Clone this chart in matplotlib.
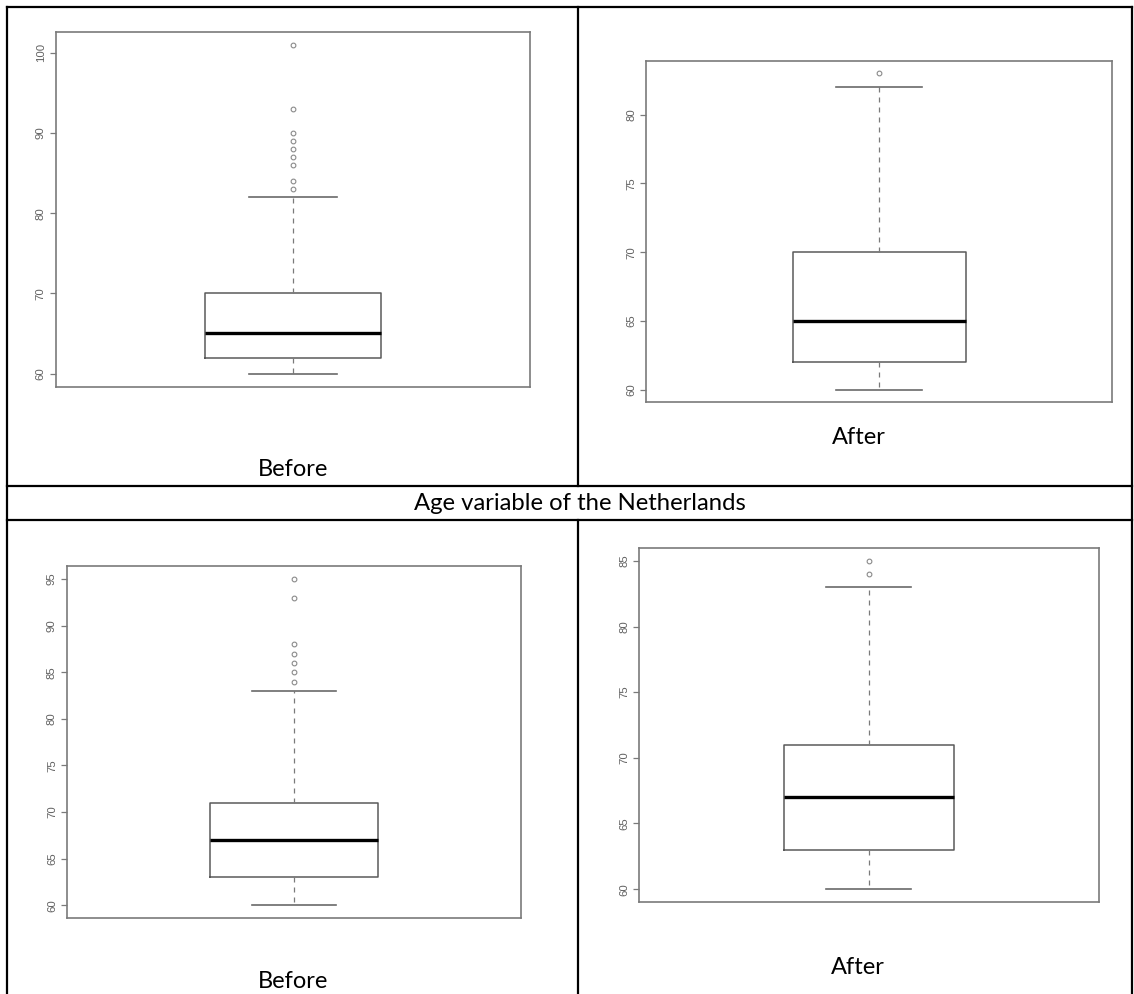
import matplotlib
matplotlib.use("Agg")
import matplotlib.pyplot as plt
from matplotlib.lines import Line2D

# Age summaries (box stats + outliers) for each panel
labels = ["Before", "After", "Before", "After"]
q1 = [62, 62, 63, 63]
medians = [65, 65, 67, 67]
q3 = [70, 70, 71, 71]
whis_lo = [60, 60, 60, 60]
whis_hi = [82, 82, 83, 83]
outliers = [
    [83, 84, 86, 87, 88, 89, 90, 93, 101],
    [83],
    [84, 85, 86, 87, 88, 93, 95],
    [84, 85],
]
yticks = [
    [60, 70, 80, 90, 100],
    [60, 65, 70, 75, 80],
    [60, 65, 70, 75, 80, 85, 90, 95],
    [60, 65, 70, 75, 80, 85],
]
title = "Age variable of the Netherlands"

W, H = 1134, 994
fig = plt.figure(figsize=(W / 100, H / 100), dpi=100)
fig.patch.set_facecolor("white")


def fx(x):
    return x / W


def fy(y):
    return 1 - y / H


# axes boxes in pixels: left, top, right, bottom
panels = [
    (55.5, 31.7, 530.0, 386.7),
    (646.3, 60.7, 1112.3, 402.3),
    (66.7, 566.0, 521.0, 918.3),
    (639.0, 547.7, 1098.7, 902.3),
]
# caption centres in pixels
captions = [(293, 470), (859, 438), (293, 982), (858, 967)]

frame_col = "#7a7a7a"
for i, (l, t, r, b) in enumerate(panels):
    ax = fig.add_axes([fx(l), fy(b), fx(r - l), (b - t) / H])
    stats = [dict(med=medians[i], q1=q1[i], q3=q3[i],
                  whislo=whis_lo[i], whishi=whis_hi[i],
                  fliers=outliers[i], label="")]
    ax.bxp(stats, positions=[1], widths=0.4, capwidths=0.2,
           showfliers=True,
           boxprops=dict(color="#5a5a5a", linewidth=1.1),
           medianprops=dict(color="black", linewidth=2.4, solid_capstyle="butt"),
           whiskerprops=dict(color="#7a7a7a", linewidth=0.9, linestyle=(0, (4, 4))),
           capprops=dict(color="#6a6a6a", linewidth=1.2),
           flierprops=dict(marker="o", markersize=3.4, markerfacecolor="none",
                           markeredgecolor="#8a8a8a", markeredgewidth=0.8))
    lo = min(whis_lo[i], min(outliers[i]))
    hi = max(whis_hi[i], max(outliers[i]))
    pad = (hi - lo) * 0.04
    ax.set_ylim(lo - pad, hi + pad)
    ax.set_xlim(0.46, 1.54)
    ax.set_xticks([])
    ax.set_yticks(yticks[i])
    ax.set_yticklabels([str(v) for v in yticks[i]], rotation=90, va="center",
                       fontsize=8.2, color="#606060", family="Liberation Sans")
    ax.tick_params(axis="y", length=4.5, width=0.9, color=frame_col, pad=2.5)
    for sp in ax.spines.values():
        sp.set_color(frame_col)
        sp.set_linewidth(1.2)
    cx, cy = captions[i]
    fig.text(fx(cx), fy(cy), labels[i], ha="center", va="center",
             fontsize=17, family="Lato", color="black")

fig.text(fx(580), fy(503), title, ha="center", va="center",
         fontsize=17.2, family="Lato", color="black")

# table grid lines
grid = [
    ((7, 7), (7, H)),          # left border
    ((1132, 7), (1132, H)),    # right border
    ((7, 7), (1132, 7)),       # top border
    ((7, 486), (1132, 486)),   # under first row
    ((7, 520), (1132, 520)),   # under title row
    ((578, 7), (578, 486)),    # middle divider, top row
    ((578, 520), (578, H)),    # middle divider, bottom row
]
for (x0, y0), (x1, y1) in grid:
    fig.add_artist(Line2D([fx(x0), fx(x1)], [fy(y0), fy(y1)],
                          color="black", linewidth=1.6,
                          solid_capstyle="projecting"))

fig.savefig("out.png", dpi=100, facecolor="white")
